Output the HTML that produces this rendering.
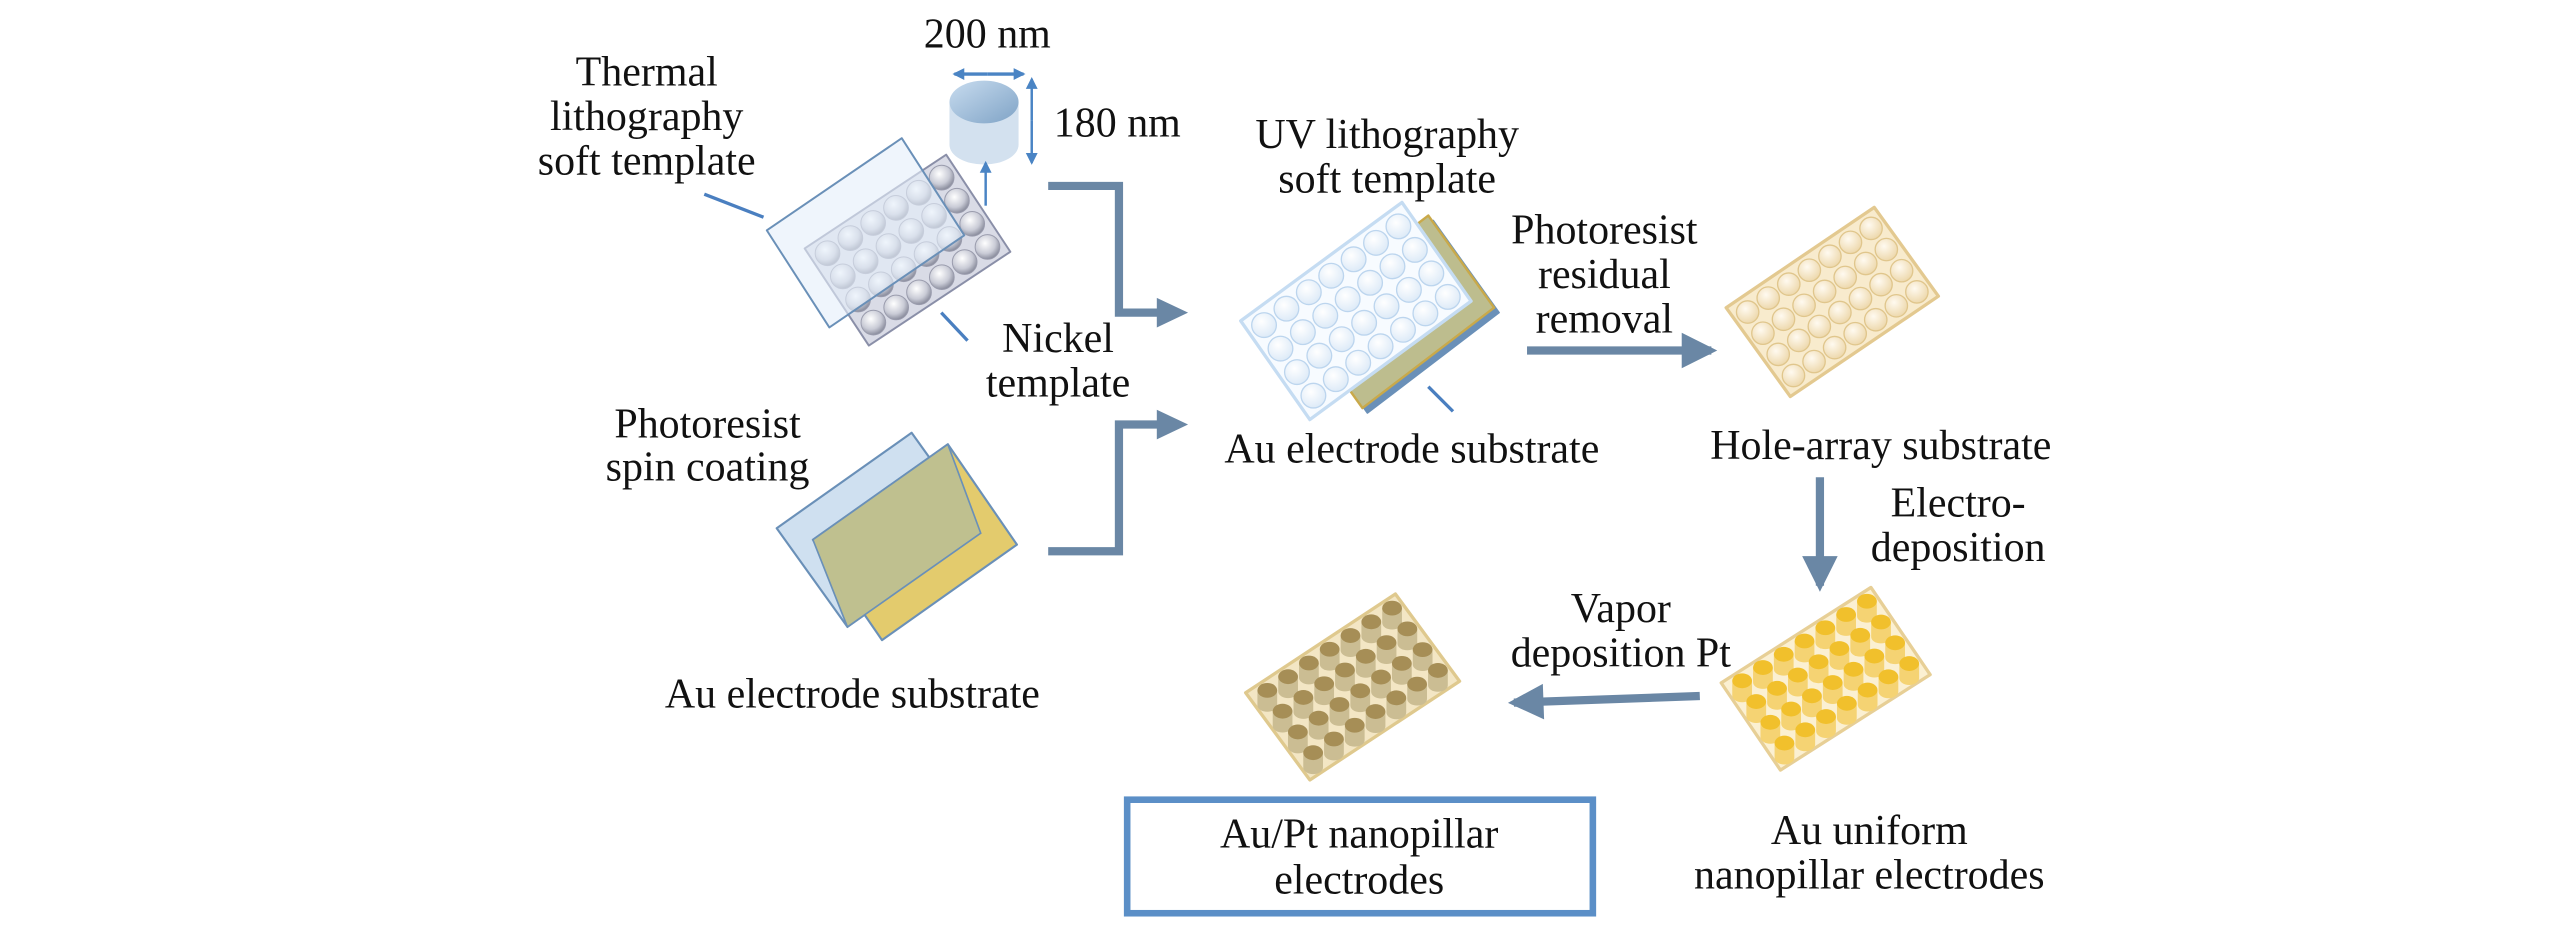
<!DOCTYPE html>
<html><head><meta charset="utf-8"><style>
html,body{margin:0;padding:0;background:#fff;}
svg{display:block}
text{font-family:"Times New Roman","Liberation Serif",Times,"DejaVu Serif",serif;font-size:25.5px;fill:#111;text-anchor:middle}
</style></head><body>
<svg id="s" width="2567" height="945" viewBox="0 0 1560 574.3" xmlns="http://www.w3.org/2000/svg">
<defs>
<radialGradient id="gS" cx="0.4" cy="0.35" r="0.7"><stop offset="0" stop-color="#ffffff"/><stop offset="0.6" stop-color="#c9cbd6"/><stop offset="1" stop-color="#7e8192"/></radialGradient>
<radialGradient id="gW" cx="0.4" cy="0.35" r="0.7"><stop offset="0" stop-color="#ffffff"/><stop offset="1" stop-color="#dbe9f7"/></radialGradient>
<radialGradient id="gH" cx="0.4" cy="0.35" r="0.7"><stop offset="0" stop-color="#fffaf0"/><stop offset="1" stop-color="#ecd6a8"/></radialGradient>
<linearGradient id="gC" x1="0" y1="0" x2="1" y2="1"><stop offset="0" stop-color="#c8dcef"/><stop offset="1" stop-color="#7fa3c6"/></linearGradient>
</defs>
<g id="g"></g>
<g style="font-family:'Times New Roman','Liberation Serif',Times,serif">
<text x="600" y="29">200 nm</text>
<text x="393" y="52">Thermal</text>
<text x="393" y="79">lithography</text>
<text x="393" y="106">soft template</text>
<text x="679" y="83">180 nm</text>
<text x="643" y="214">Nickel</text>
<text x="643" y="241">template</text>
<text x="843" y="90">UV lithography</text>
<text x="843" y="117">soft template</text>
<text x="975" y="148">Photoresist</text>
<text x="975" y="175">residual</text>
<text x="975" y="202">removal</text>
<text x="858" y="281">Au electrode substrate</text>
<text x="1143" y="279">Hole-array substrate</text>
<text x="1190" y="314">Electro-</text>
<text x="1190" y="341">deposition</text>
<text x="985" y="378">Vapor</text>
<text x="985" y="405">deposition Pt</text>
<text x="430" y="266">Photoresist</text>
<text x="430" y="292">spin coating</text>
<text x="518" y="430">Au electrode substrate</text>
<text x="826" y="515">Au/Pt nanopillar</text>
<text x="826" y="543">electrodes</text>
<text x="1136" y="513">Au uniform</text>
<text x="1136" y="540">nanopillar electrodes</text>
</g>
</svg>
<script>
var NS="http://www.w3.org/2000/svg",G=document.getElementById("g");
function el(t,a){var e=document.createElementNS(NS,t);for(var k in a)e.setAttribute(k,a[k]);G.appendChild(e);return e;}
function quad(L,T,B,fill,stroke,sw,op){var R=[T[0]+B[0]-L[0],T[1]+B[1]-L[1]];
 el("polygon",{points:[L,T,R,B].map(function(p){return p.join(",")}).join(" "),fill:fill,stroke:stroke,"stroke-width":sw||1.2,"stroke-linejoin":"round","fill-opacity":op||1});}
function grid(L,T,B,nu,nv,fn){var u=[T[0]-L[0],T[1]-L[1]],v=[B[0]-L[0],B[1]-L[1]];
 for(var j=0;j<nv;j++)for(var i=0;i<nu;i++){var a=(i+0.6)/(nu+0.2),b=(j+0.6)/(nv+0.2);fn(L[0]+u[0]*a+v[0]*b,L[1]+u[1]*a+v[1]*b);}}
quad([489,151],[575,94],[528,210],"#d9dbe6","#8a8fa8",1.2);
grid([489,151],[575,94],[528,210],6,4,function(x,y){el("circle",{cx:x,cy:y,r:7.5,fill:"url(#gS)",stroke:"#9a9cad","stroke-width":0.6});});
quad([466,140],[548,84],[504,199],"#e4eefa","#6a90b8",1.2,0.6);
el("line",{x1:428,y1:118,x2:464,y2:132,stroke:"#4a7fc0","stroke-width":2});
el("line",{x1:572,y1:190,x2:588,y2:207,stroke:"#4a7fc0","stroke-width":2});
el("line",{x1:868,y1:235,x2:883,y2:250,stroke:"#4a7fc0","stroke-width":2});
el("path",{d:"M577,62 L577,88 A21,12 0 0 0 619,88 L619,62 Z",fill:"#d3e1ef"});
el("ellipse",{cx:598,cy:62,rx:21,ry:13,fill:"url(#gC)"});
function arr(x1,y1,x2,y2,c,w,h){el("line",{x1:x1,y1:y1,x2:x2,y2:y2,stroke:c,"stroke-width":w});
 var dx=x2-x1,dy=y2-y1,l=Math.hypot(dx,dy),ux=dx/l,uy=dy/l;
 el("polygon",{points:[x2+ux*h*0.2,y2+uy*h*0.2,x2-ux*h+uy*h*0.6,y2-uy*h-ux*h*0.6,x2-ux*h-uy*h*0.6,y2-uy*h+ux*h*0.6].join(","),fill:c});}
arr(600,45,580,45,"#4a84c4",2,6);arr(600,45,622,45,"#4a84c4",2,6);
arr(627,73,627,48,"#4a84c4",1.5,6);arr(627,73,627,99,"#4a84c4",1.5,6);
arr(599,125,599,99,"#4a84c4",1.5,6);
var AC="#6a87a5";
el("polyline",{points:"637,113 680,113 680,190 705,190",fill:"none",stroke:AC,"stroke-width":5});
el("polygon",{points:"703,181 722,190 703,199",fill:AC});
el("polyline",{points:"637,335 680,335 680,258 705,258",fill:"none",stroke:AC,"stroke-width":5});
el("polygon",{points:"703,249 722,258 703,267",fill:AC});
arr(928,213,1040,213,AC,5,18);
arr(1106,290,1106,356,AC,5,18);
arr(1033,423,920,427,AC,5,18);
quad([472,321],[554,263],[515,381],"#cfe0f0","#6a90b8",1.3);
quad([494,328],[576,270],[536,389],"#e3cb6d","#6a90b8",1.3);
el("polygon",{points:"494,328 576,270 596,324 515,381",fill:"#bfc08f",stroke:"#6a90b8","stroke-width":1});
quad([791,195],[871,134],[831,251],"#6a90b8","#6a90b8",1);
quad([788,192],[868,131],[828,248],"#bdbd8e","#c9a94a",1.5);
quad([754,195],[852,123],[796,255],"#f7fbff","#c5dcf2",2);
grid([754,195],[852,123],[796,255],7,4,function(x,y){el("circle",{cx:x,cy:y,r:7.5,fill:"url(#gW)",stroke:"#bcd5ee","stroke-width":0.8});});
quad([1049,187],[1139,126],[1088,241],"#f8ebcd","#e3c990",2);
grid([1049,187],[1139,126],[1088,241],7,4,function(x,y){el("circle",{cx:x,cy:y,r:6.8,fill:"url(#gH)",stroke:"#e0c68c","stroke-width":0.8});});
function pillars(L,T,B,top,side,base,bst){
 quad(L,T,B,base,bst,2);
 grid(L,T,B,7,4,function(x,y){y-=4;el("path",{d:"M"+(x-6)+","+y+" L"+(x-6)+","+(y+9)+" A6,4 0 0 0 "+(x+6)+","+(y+9)+" L"+(x+6)+","+y+" Z",fill:side});
 el("ellipse",{cx:x,cy:y,rx:6,ry:4.5,fill:top});});}
pillars([1046,415],[1137,357],[1082,468],"#f1c02c","#f5d373","#fbf0d2","#e7cf96");
pillars([757,421],[848,361],[796,474],"#a68e56","#cbbd93","#f3e6c4","#dfc98e");
el("rect",{x:685,y:486,width:283,height:69,fill:"none",stroke:"#5b8fc7","stroke-width":4});
</script>
</body></html>
